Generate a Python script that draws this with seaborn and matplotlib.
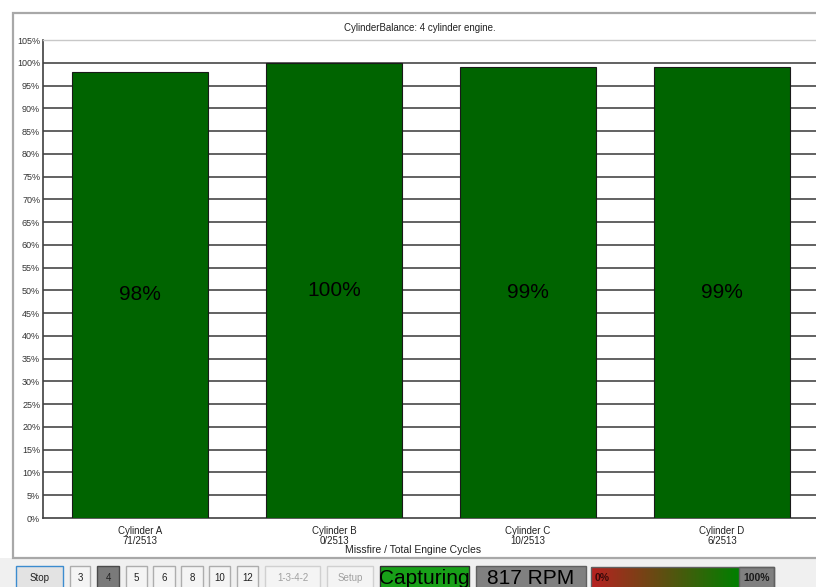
import matplotlib
matplotlib.use("Agg")
import numpy as np
import pandas as pd
import seaborn as sns
import matplotlib.pyplot as plt
from matplotlib.patches import Rectangle

# ---- data ----
cylinders = ["Cylinder A", "Cylinder B", "Cylinder C", "Cylinder D"]
balance = [98, 100, 99, 99]
misfires = [71, 0, 10, 6]
cycles = [2513, 2513, 2513, 2513]
y_ticks = list(range(0, 106, 5))
title = "CylinderBalance: 4 cylinder engine."
xlabel = "Missfire / Total Engine Cycles"
buttons = ["Stop", "3", "4", "5", "6", "8", "10", "12", "1-3-4-2", "Setup"]
rpm = 817

sns.set_theme(style="white")
plt.rcParams['font.family'] = ['Liberation Sans', 'DejaVu Sans']

W, H = 816, 587
fig = plt.figure(figsize=(W / 100, H / 100), dpi=100, facecolor="white")

bg = fig.add_axes([0, 0, 1, 1], zorder=0)
bg.set_xlim(0, W)
bg.set_ylim(H, 0)
bg.axis("off")


def px_axes(l, t, r, b):
    return [l / W, 1 - b / H, (r - l) / W, (b - t) / H]


# background / panel
bg.add_patch(Rectangle((0, 557.5), W, 40, facecolor="#f0f0f0", edgecolor="none"))
bg.add_patch(Rectangle((12.5, 12.5), 830, 545, facecolor="white", edgecolor="#a8a8a8", lw=1.6))
bg.text(420, 28, title, ha="center", va="center", fontsize=7, color="#222222")

ax = fig.add_axes(px_axes(43, 40, 819, 518), zorder=1)
df = pd.DataFrame({"cylinder": cylinders, "balance": balance})
sns.barplot(data=df, x="cylinder", y="balance", color="#006400", saturation=1,
            width=0.7, edgecolor="#1a1a1a", linewidth=0.8, ax=ax, zorder=3)
ax.set_xlim(-0.5, 3.5)
ax.set_ylim(0, 105)
ax.set_yticks(y_ticks)
ax.set_yticklabels([f"{v}%" for v in y_ticks])
for v in y_ticks[1:-1]:
    ax.axhline(v, color="#555555", lw=1.3, zorder=1)
ax.spines["left"].set_color("#404040")
ax.spines["left"].set_linewidth(1.2)
ax.spines["bottom"].set_color("#404040")
ax.spines["bottom"].set_linewidth(1.2)
ax.spines["top"].set_color("#c8c8c8")
ax.spines["top"].set_linewidth(1.0)
ax.spines["right"].set_visible(False)
ax.tick_params(axis="y", length=0, pad=2, labelsize=6.5, labelcolor="#333333")
ax.tick_params(axis="x", length=0, pad=6, labelsize=7, labelcolor="#222222")
ax.set_xticks(range(len(cylinders)))
ax.set_xticklabels([f"{c}\n{m}/{t}" for c, m, t in zip(cylinders, misfires, cycles)],
                   linespacing=0.95)
ax.set_xlabel("")
ax.set_ylabel("")
for i, v in enumerate(balance):
    ax.text(i, v / 2, f"{v}%", ha="center", va="center", fontsize=15, color="black", zorder=4)

bg.text(413, 550, xlabel, ha="center", va="center", fontsize=7.5, color="#222222")

# toolbar
btn_x = [(16, 63), (70, 90), (97, 119), (126, 147), (153, 175), (181, 203),
         (209, 230), (237, 258), (265, 320), (327, 373)]
y0, y1 = 566, 592
for lab, (a, b) in zip(buttons, btn_x):
    face, edge, tc = "#f4f4f4", "#adadad", "#222222"
    if lab == "Stop":
        face, edge = "#e3e3e3", "#3c8ccf"
    elif lab == "4":
        face, edge = "#7a7a7a", "#4a4a4a"
    elif lab in ("1-3-4-2", "Setup"):
        face, edge, tc = "#f4f4f4", "#d0d0d0", "#a0a0a0"
    bg.add_patch(Rectangle((a, y0), b - a, y1 - y0, facecolor=face, edgecolor=edge, lw=1.0))
    bg.text((a + b) / 2, 578, lab, ha="center", va="center", fontsize=7, color=tc)

bg.add_patch(Rectangle((380, 566), 89, 26, facecolor="#18a018", edgecolor="#303030", lw=1.0))
bg.text(424.5, 579, "Capturing", ha="center", va="center", fontsize=15, color="black")
bg.add_patch(Rectangle((476, 566), 110, 26, facecolor="#808080", edgecolor="#606060", lw=1.0))
bg.text(531, 579, f"{rpm} RPM", ha="center", va="center", fontsize=15, color="black")

grad = np.linspace(0, 1, 256)
c0 = np.array([0.72, 0.13, 0.13])
c1 = np.array([0.0, 0.50, 0.0])
img = (c0[None, :] * (1 - grad[:, None]) + c1[None, :] * grad[:, None])[None, :, :]
bg.imshow(img, extent=(591, 739, 592, 567), aspect="auto", zorder=2)
bg.add_patch(Rectangle((739, 567), 35, 25, facecolor="#808080", edgecolor="#606060", lw=1.0, zorder=2))
bg.add_patch(Rectangle((591, 567), 183, 25, facecolor="none", edgecolor="#606060", lw=1.0, zorder=3))
bg.text(595, 578, "0%", ha="left", va="center", fontsize=7.5, fontweight="bold", color="#3a0a0a", zorder=4)
bg.text(756.5, 578, "100%", ha="center", va="center", fontsize=7.5, fontweight="bold", color="#1a1a1a", zorder=4)
bg.set_xlim(0, W)
bg.set_ylim(H, 0)

fig.savefig("out.png", dpi=100, facecolor=fig.get_facecolor())
